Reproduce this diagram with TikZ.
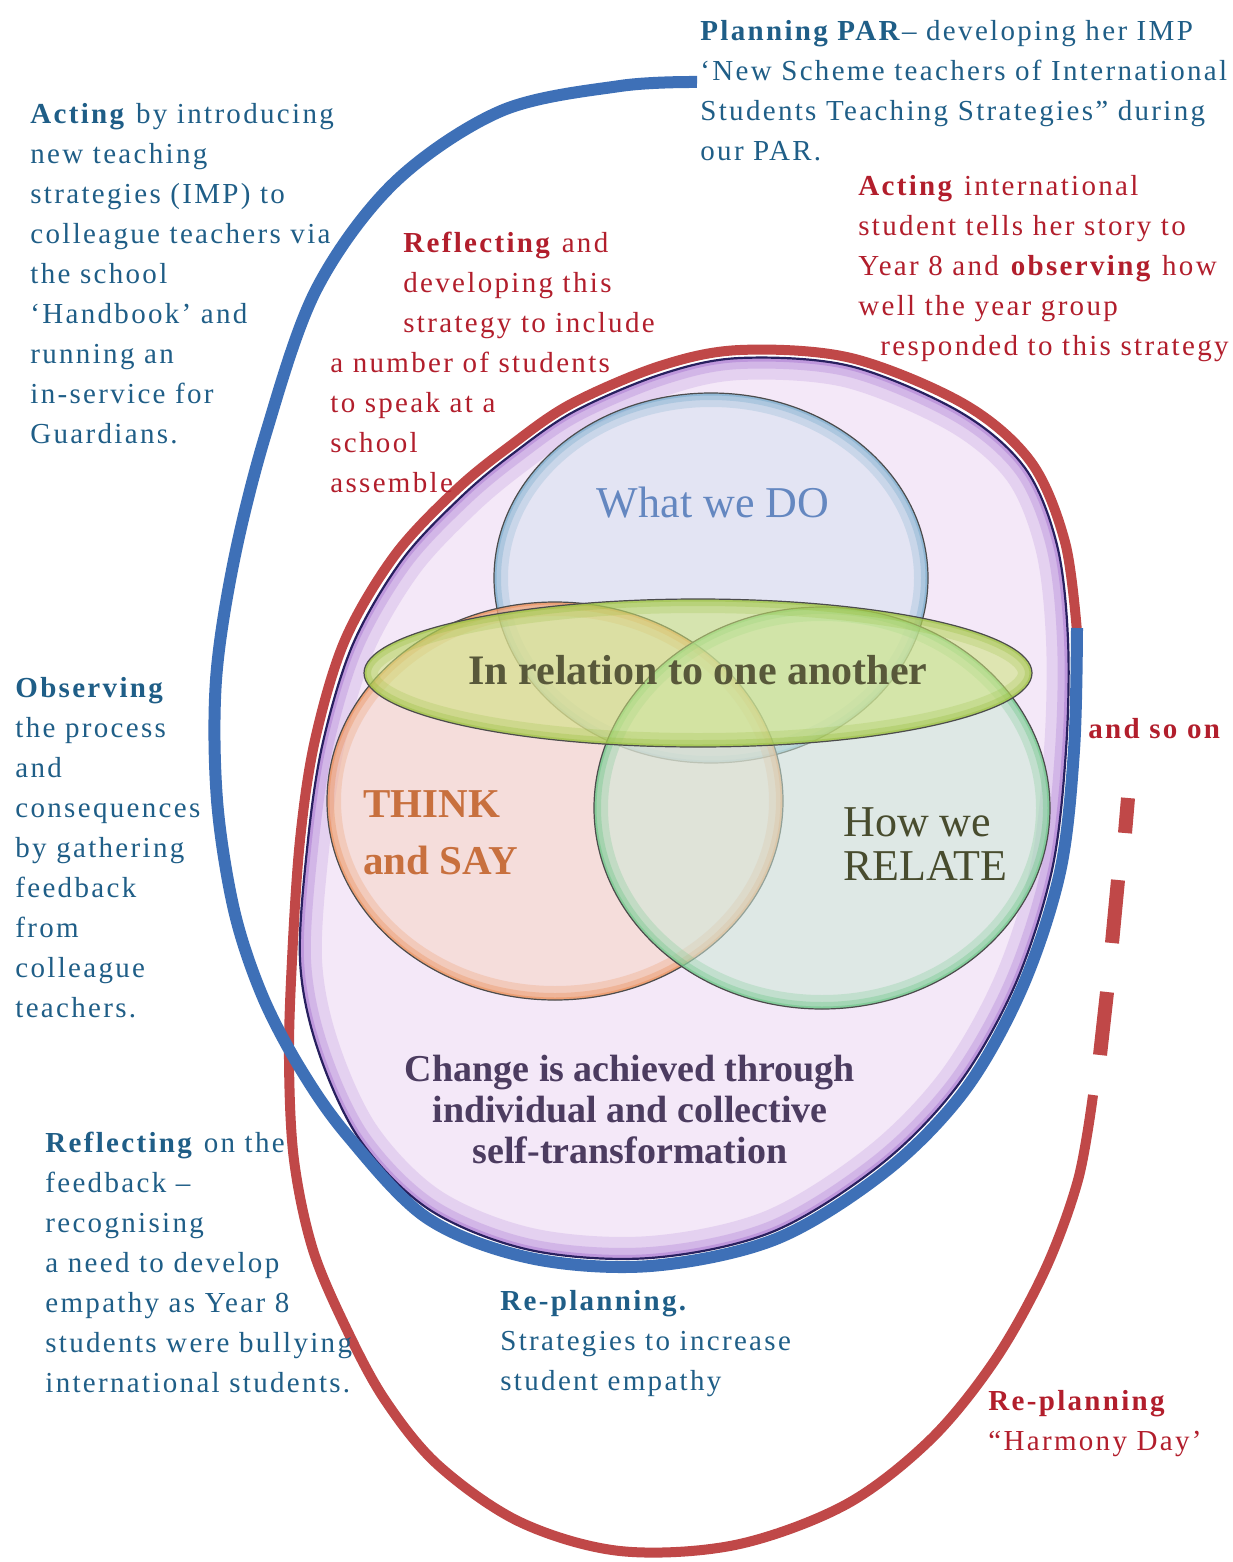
\documentclass[tikz,border=0pt]{standalone}
\usepackage{fontspec}
\setmainfont{Liberation Serif}
\newfontfamily\annfont{Liberation Serif}[LetterSpace=8]
\definecolor{annblue}{RGB}{31,94,135}
\definecolor{annred}{RGB}{178,30,44}
\definecolor{lineblue}{RGB}{62,112,183}
\definecolor{linered}{RGB}{192,72,72}
\definecolor{purplefill}{RGB}{244,232,248}
\definecolor{purpleglow}{RGB}{160,105,205}
\definecolor{navyline}{RGB}{40,32,95}
\definecolor{dofill}{RGB}{214,226,240}
\definecolor{doedge}{RGB}{110,165,200}
\definecolor{orfill}{RGB}{247,212,196}
\definecolor{oredge}{RGB}{235,135,75}
\definecolor{grfill}{RGB}{205,232,215}
\definecolor{gredge}{RGB}{95,195,125}
\definecolor{elfill}{RGB}{205,228,120}
\definecolor{eledge}{RGB}{150,190,60}
\definecolor{dotext}{RGB}{100,135,192}
\definecolor{reltext}{RGB}{88,88,58}
\definecolor{thinktext}{RGB}{200,112,62}
\definecolor{howtext}{RGB}{72,76,46}
\definecolor{changetext}{RGB}{76,60,96}
\newcommand\VennBlob[6]{%
  \fill[#5, fill opacity=.55] (#1,#2) ellipse [x radius=#3, y radius=#4];
  \begin{scope}
    \clip (#1,#2) ellipse [x radius=#3, y radius=#4];
    \draw[#6, line width=14pt, opacity=.22] (#1,#2) ellipse [x radius=#3, y radius=#4];
    \draw[#6, line width=7pt, opacity=.3] (#1,#2) ellipse [x radius=#3, y radius=#4];
    \draw[#6, line width=2.5pt, opacity=.45] (#1,#2) ellipse [x radius=#3, y radius=#4];
  \end{scope}
  \draw[black!70, line width=0.6pt] (#1,#2) ellipse [x radius=#3, y radius=#4];
}
\tikzset{
  ann/.style={font=\annfont\fontsize{14.5}{20}\selectfont, align=left, inner sep=0pt, anchor=north west},
  bluetext/.style={ann, text=annblue},
  redtext/.style={ann, text=annred},
  blueline/.style={draw=lineblue, line width=6pt},
  redline/.style={draw=linered, line width=5pt},
}
\begin{document}
\begin{tikzpicture}[x=0.5pt,y=-0.5pt]
\useasboundingbox (0,0) rectangle (1232,1562);
\fill[white] (0,0) rectangle (1232,1562);

% large purple egg
\path[save path=\PurplePath] plot[smooth cycle, tension=0.55] coordinates {
 (740,358) (850,366) (960,412) (1025,468) (1057,545) (1068,640) (1066,750)
 (1052,870) (1015,985) (958,1085) (880,1165) (772,1232) (650,1258)
 (530,1250) (430,1210) (360,1140) (318,1050) (300,960) (308,840)
 (323,742) (353,644) (402,560) (462,496) (515,452) (575,411) (662,374)};
\fill[purplefill, use path=\PurplePath];
\begin{scope}
  \clip[use path=\PurplePath];
  \draw[purpleglow, line width=22pt, opacity=.18, use path=\PurplePath];
  \draw[purpleglow, line width=11pt, opacity=.25, use path=\PurplePath];
  \draw[purpleglow, line width=4pt, opacity=.4, use path=\PurplePath];
\end{scope}
\draw[navyline, line width=1.1pt, use path=\PurplePath];

% Venn shapes
\VennBlob{711}{578}{217}{185}{dofill}{doedge}
\VennBlob{555}{801}{228}{199}{orfill}{oredge}
\VennBlob{822}{808}{228}{201}{grfill}{gredge}
\VennBlob{698}{673}{334}{74}{elfill}{eledge}

% cycle lines
\draw[redline] plot[smooth, tension=0.55] coordinates {
 (1077,632) (1065,542) (1031,462) (964,404) (851,358) (740,350) (660,366)
 (571,404) (510,446) (456,490) (395,555) (345,640) (315,740) (300,840)
 (292,960) (289,1060) (294,1160) (313,1250) (347,1330) (385,1400)
 (438,1465) (520,1522) (620,1551) (735,1545) (845,1505) (930,1440)
 (995,1360) (1045,1270) (1078,1180) (1093,1095)};
\coordinate (d1a) at (1128,798); \coordinate (d1b) at (1125,833);
\coordinate (d2a) at (1118,880); \coordinate (d2b) at (1112,943);
\coordinate (d3a) at (1107,992); \coordinate (d3b) at (1100,1055);
\draw[redline, line width=7pt] (d1a) -- (d1b);
\draw[redline, line width=7pt] (d2a) -- (d2b);
\draw[redline, line width=7pt] (d3a) -- (d3b);

\draw[blueline] plot[smooth, tension=0.55] coordinates {
 (697,82) (620,86) (501,111) (394,183) (316,290) (266,433) (234,560)
 (216,680) (217,800) (234,910) (262,995) (300,1068) (347,1135) (427,1218)
 (530,1258) (650,1266) (776,1239) (886,1171) (965,1090) (1022,988)
 (1060,872) (1074,750) (1077,628)};

% centre texts
\node[text=dotext, font=\fontsize{22}{22}\selectfont] (do) at (713,503) {What we DO};
\node[text=reltext, font=\bfseries\fontsize{21}{22}\selectfont] (rel) at (698,670) {In relation to one another};
\node[text=thinktext, font=\bfseries\fontsize{20.5}{28.5}\selectfont, align=left, anchor=west, inner sep=0pt] (think) at (363,833) {THINK\\and SAY};
\node[text=howtext, font=\fontsize{22}{22}\selectfont, align=left, anchor=west, inner sep=0pt] (how) at (843,844) {How we\\RELATE};
\node[text=changetext, font=\bfseries\fontsize{19}{20.5}\selectfont, align=center] (change) at (630,1109) {Change is achieved through\\individual and collective\\self-transformation};

% blue annotations
\node[bluetext] (actb) at (30,103) {\textbf{Acting} by introducing\\new teaching\\strategies (IMP) to\\colleague teachers via\\the school\\‘Handbook’ and\\running an\\in-service for\\Guardians.};
\node[bluetext] (plan) at (700,20) {\textbf{Planning PAR}– developing her IMP\\‘New Scheme teachers of International\\Students Teaching Strategies” during\\our PAR.};
\node[bluetext] (obs) at (15,677) {\textbf{Observing}\\the process\\and\\consequences\\by gathering\\feedback\\from\\colleague\\teachers.};
\node[bluetext] (refb) at (45,1132) {\textbf{Reflecting} on the\\feedback –\\recognising\\a need to develop\\empathy as Year 8\\students were bullying\\international students.};
\node[bluetext] (replb) at (500,1290) {\textbf{Re-planning.}\\Strategies to increase\\student empathy};

% red annotations
\node[redtext] (refr) at (403,232) {\textbf{Reflecting} and\\developing this\\strategy to include};
\node[redtext] (refr2) at (330,352) {a number of students\\to speak at a\\school\\assemble};
\node[redtext] (actr) at (858,175) {\textbf{Acting} international\\student tells her story to\\Year 8 and \textbf{observing} how\\well the year group\\\hspace*{11pt}responded to this strategy};
\node[redtext, font=\annfont\bfseries\fontsize{14.5}{20}\selectfont] (soon) at (1088,718) {and so on};
\node[redtext] (replr) at (988,1390) {\textbf{Re-planning}\\“Harmony Day’};
\end{tikzpicture}
\end{document}
